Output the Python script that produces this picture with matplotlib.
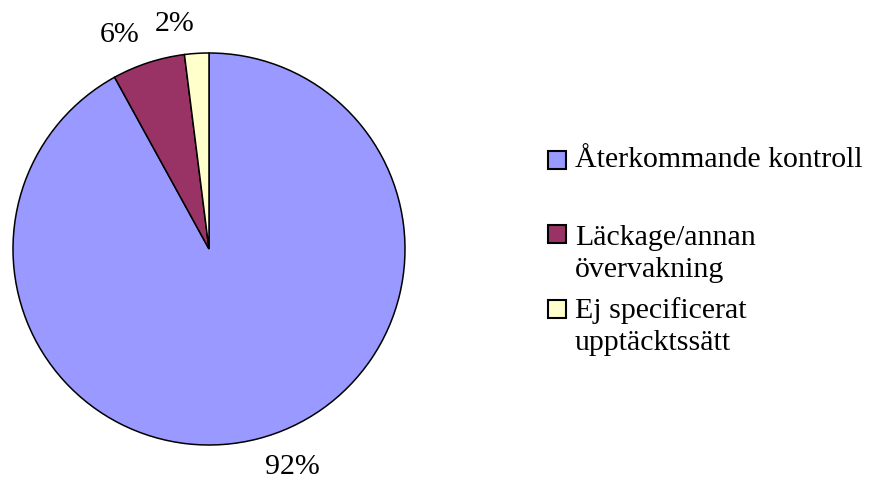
import matplotlib.pyplot as plt
from matplotlib.patches import Rectangle

# upptäcktssätt, andel i procent
categories = ['Återkommande kontroll', 'Läckage/annan\növervakning',
              'Ej specificerat\nupptäcktssätt']
values = [92, 6, 2]
colors = ['#9999FF', '#993366', '#FFFFCC']

plt.rcParams['font.family'] = ['Liberation Serif', 'DejaVu Serif']

W, H = 871, 479
fig = plt.figure(figsize=(W / 100, H / 100), dpi=100)

# pie: centre (209, 249) px, radius 196 px
cx, cy, r = 209, 249, 196
ax = fig.add_axes([(cx - r) / W, (H - cy - r) / H, 2 * r / W, 2 * r / H])
wedges, texts = ax.pie(values, colors=colors, startangle=90, counterclock=False,
                       labels=[f'{v}%' for v in values], labeldistance=1.15,
                       wedgeprops=dict(edgecolor='black', linewidth=1.1),
                       textprops=dict(fontsize=21.5))
ax.set_xlim(-1, 1)
ax.set_ylim(-1, 1)
ax.set_aspect('auto')
ax.axis('off')

# legend built by hand so the box sits beside the first line of each label
box_x, box_s, text_x = 548, 18, 575
box_rows = [160, 234, 309]
last_baselines = [167, 277, 350]
for cat, col, yc, yb in zip(categories, colors, box_rows, last_baselines):
    fig.add_artist(Rectangle((box_x / W, (H - yc - box_s / 2) / H),
                             box_s / W, box_s / H, transform=fig.transFigure,
                             facecolor=col, edgecolor='black', linewidth=1.5))
    fig.text(text_x / W, (H - yb) / H, cat, fontsize=21.5, va='baseline',
             ha='left', linespacing=1.3)

fig.savefig('out.png', dpi=100)
